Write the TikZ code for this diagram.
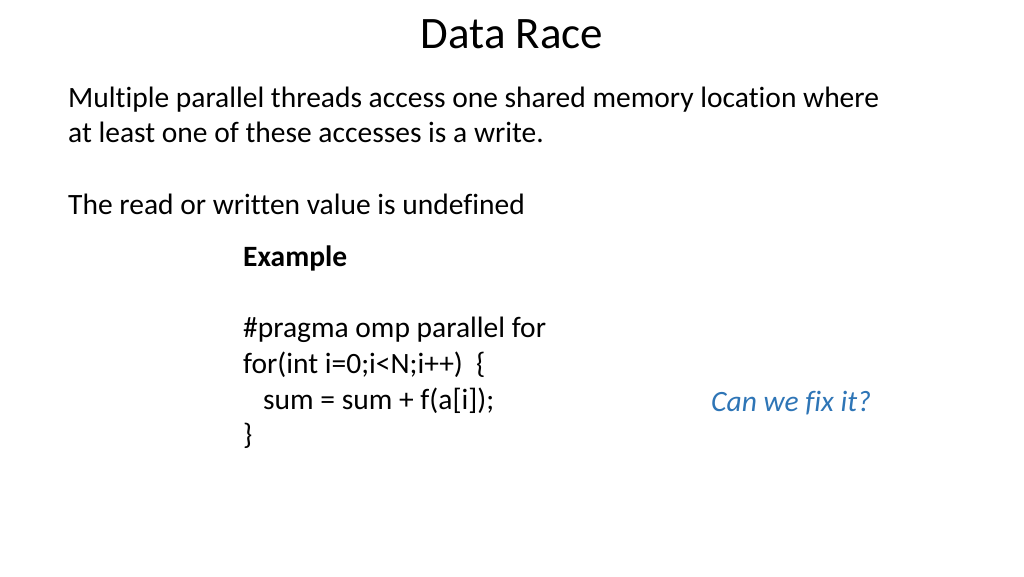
\documentclass[tikz,border=0pt]{standalone}
\usepackage{fontspec}
\setmainfont[Ligatures=CommonOff]{Carlito}
\definecolor{fixblue}{RGB}{46,117,182}
\begin{document}
\begin{tikzpicture}[x=1pt,y=-1pt,
  txt/.style={anchor=base west,inner sep=0pt,font=\fontsize{29.5}{34}\selectfont}]
\useasboundingbox (0,0) rectangle (1024,576);
\node[anchor=base,inner sep=0pt,font=\fontsize{45}{50}\selectfont] (title) at (512,48) {Data Race};
\node[txt] (l1) at (68,107) {Multiple parallel threads access one shared memory location where};
\node[txt] (l2) at (68,142) {at least one of these accesses is a write.};
\node[txt] (l3) at (68,214) {The read or written value is undefined};
\node[txt,font=\fontsize{29.5}{34}\selectfont\bfseries] (ex) at (243,266) {Example};
\node[txt] (c1) at (243,337) {\#pragma omp parallel for};
\node[txt] (c2) at (243,373) {for(int i=0;i<N;i++)\ \ \{};
\node[txt] (c3) at (263,409) {sum = sum + f(a[i]);};
\node[txt] (c4) at (243,444) {\}};
\node[txt,font=\fontsize{29.5}{34}\selectfont\itshape,text=fixblue] (fix) at (711,411) {Can we fix it?};
\end{tikzpicture}
\end{document}
